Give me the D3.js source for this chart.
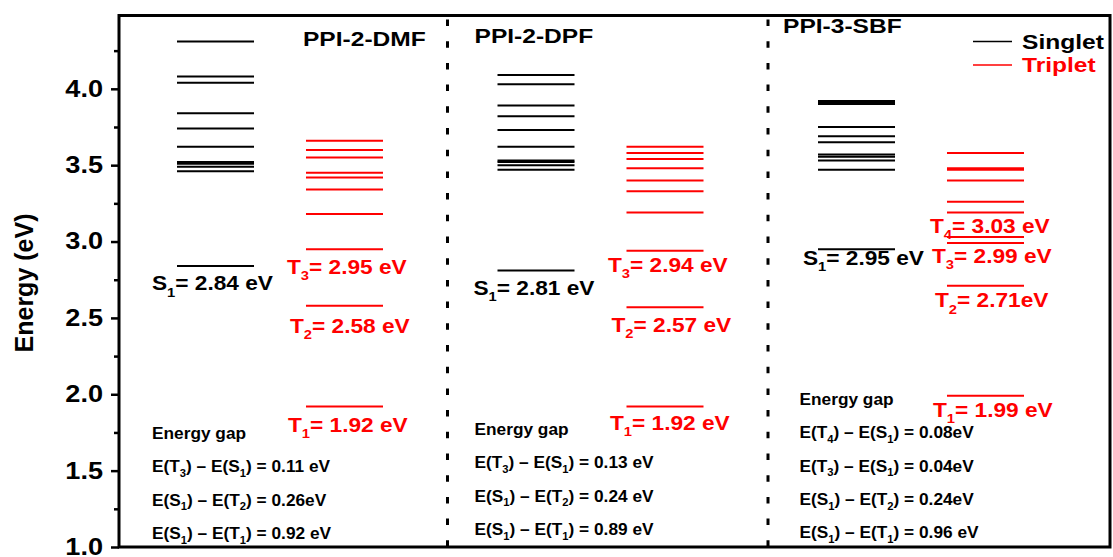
<!DOCTYPE html>
<html>
<head>
<meta charset="utf-8">
<script src="https://cdn.jsdelivr.net/npm/d3@7"></script>
<style>
  body { margin: 0; background: #fff; }
  text { font-family: "Liberation Sans", Arial, sans-serif; font-weight: bold; }
</style>
</head>
<body>
<script>
// Molecules and their computed excited state energies (eV)
var molecules = ["PPI-2-DMF", "PPI-2-DPF", "PPI-3-SBF"];

var singletDMF = [4.31, 4.08, 4.04, 3.84, 3.74, 3.62, 3.52, 3.51, 3.49, 3.46, 2.84];
var tripletDMF = [3.66, 3.60, 3.55, 3.45, 3.42, 3.34, 3.18, 2.95, 2.58, 1.92];
var singletDPF = [4.09, 4.03, 3.89, 3.82, 3.73, 3.62, 3.53, 3.52, 3.50, 3.47, 2.81];
var tripletDPF = [3.62, 3.58, 3.54, 3.48, 3.40, 3.33, 3.19, 2.94, 2.57, 1.92];
var singletSBF = [3.92, 3.91, 3.90, 3.75, 3.69, 3.65, 3.57, 3.555, 3.53, 3.47, 2.95];
var tripletSBF = [3.58, 3.48, 3.47, 3.40, 3.26, 3.19, 3.03, 2.99, 2.71, 1.99];

var singlets = [singletDMF, singletDPF, singletSBF];
var triplets = [tripletDMF, tripletDPF, tripletSBF];

// Level labels ("_x" = subscript)
var levelLabelsDMF = [["Singlet", 2.84, "S_1= 2.84 eV"], ["Triplet", 2.95, "T_3= 2.95 eV"], ["Triplet", 2.58, "T_2= 2.58 eV"], ["Triplet", 1.92, "T_1= 1.92 eV"]];
var levelLabelsDPF = [["Singlet", 2.81, "S_1= 2.81 eV"], ["Triplet", 2.94, "T_3= 2.94 eV"], ["Triplet", 2.57, "T_2= 2.57 eV"], ["Triplet", 1.92, "T_1= 1.92 eV"]];
var levelLabelsSBF = [["Singlet", 2.95, "S_1= 2.95 eV"], ["Triplet", 3.03, "T_4= 3.03 eV"], ["Triplet", 2.99, "T_3= 2.99 eV"], ["Triplet", 2.71, "T_2= 2.71eV"], ["Triplet", 1.99, "T_1= 1.99 eV"]];
var levelLabels = [levelLabelsDMF, levelLabelsDPF, levelLabelsSBF];

// Energy gap notes
var gapDMF = ["Energy gap", "E(T_3) - E(S_1) = 0.11 eV", "E(S_1) - E(T_2) = 0.26eV", "E(S_1) - E(T_1) = 0.92 eV"];
var gapDPF = ["Energy gap", "E(T_3) - E(S_1) = 0.13 eV", "E(S_1) - E(T_2) = 0.24 eV", "E(S_1) - E(T_1) = 0.89 eV"];
var gapSBF = ["Energy gap", "E(T_4) - E(S_1) = 0.08eV", "E(T_3) - E(S_1) = 0.04eV", "E(S_1) - E(T_2) = 0.24eV", "E(S_1) - E(T_1) = 0.96 eV"];
var gapNotes = [gapDMF, gapDPF, gapSBF];

var majorTicks = [1.0, 1.5, 2.0, 2.5, 3.0, 3.5, 4.0];
var minorTicks = [1.25, 1.75, 2.25, 2.75, 3.25, 3.75, 4.25];

// Layout (pixel offsets for annotations)
var labelOffsets = [
  [[15, 24.5], [150, 25], [153, 27], [151, 25.5]],
  [[16, 24.5], [150.5, 21], [154, 24.5], [152.5, 23.5]],
  [[25, 16], [152, -4], [154, 20], [157, 21.5], [155, 21]]
];
var titleLayout = [[166, 46.5], [17, 43], [5, 33.5]];
var gapLayout = [[15, 439], [17, 435], [21.5, 405]];
var gapStep = 33.3;

var colors = { Singlet: "#000000", Triplet: "#ff0000" };

var svgWidth = 1113;
var svgHeight = 557;
var plot = { left: 119, right: 1110, top: 15.5, bottom: 547 };

var svg = d3.select("body")
  .append("svg")
  .attr("width", svgWidth)
  .attr("height", svgHeight);

var yScale = d3.scaleLinear()
  .domain([1.0, 4.48])
  .range([plot.bottom, plot.top]);

var panelScale = d3.scaleBand()
  .domain(molecules)
  .range([137, 1098.5]);

var colScale = d3.scaleBand()
  .domain(["Singlet", "Triplet"])
  .range([40, 246])
  .paddingInner(0.403);

// stretch text horizontally around its x anchor (source figure is widened)
function stretch(sel, sx) {
  sel.attr("transform", function() {
    var x = +this.getAttribute("x") || 0;
    return `translate(${x},0) scale(${sx},1) translate(${-x},0)`;
  });
}

// write "_x" parts as subscripts
function richText(sel, str, fs) {
  var parts = str.split(/(_\w)/);
  var down = false;
  parts.forEach(function(p) {
    if (!p) return;
    if (p[0] === "_") {
      sel.append("tspan").attr("font-size", fs * 0.65).attr("dy", fs * 0.3).text(p[1]);
      down = true;
    } else {
      sel.append("tspan").attr("dy", down ? -fs * 0.3 : null).text(p.replace(" - ", " \u2013 "));
      down = false;
    }
  });
}

// separators between molecules
svg.selectAll(".sep")
  .data(molecules.slice(1))
  .enter()
  .append("line")
  .attr("x1", d => panelScale(d) - 10)
  .attr("x2", d => panelScale(d) - 10)
  .attr("y1", plot.top + 4)
  .attr("y2", plot.bottom)
  .attr("stroke", "#000")
  .attr("stroke-width", 3)
  .attr("stroke-dasharray", "6.5,15.2");

// energy levels
var levels = [];
molecules.forEach(function(m, i) {
  singlets[i].forEach(e => levels.push({ mol: m, kind: "Singlet", e: e }));
  triplets[i].forEach(e => levels.push({ mol: m, kind: "Triplet", e: e }));
});

svg.selectAll(".level")
  .data(levels)
  .enter()
  .append("line")
  .attr("class", "level")
  .attr("x1", d => panelScale(d.mol) + colScale(d.kind))
  .attr("x2", d => panelScale(d.mol) + colScale(d.kind) + colScale.bandwidth())
  .attr("y1", d => yScale(d.e))
  .attr("y2", d => yScale(d.e))
  .attr("stroke", d => colors[d.kind])
  .attr("stroke-width", 2);

// level labels
molecules.forEach(function(m, i) {
  levelLabels[i].forEach(function(l, j) {
    var t = svg.append("text")
      .attr("x", panelScale(m) + labelOffsets[i][j][0])
      .attr("y", yScale(l[1]) + labelOffsets[i][j][1])
      .attr("font-size", 21)
      .attr("fill", colors[l[0]]);
    richText(t, l[2], 21);
    stretch(t, 1.08);
  });

  // titles
  var title = svg.append("text")
    .attr("x", panelScale(m) + titleLayout[i][0])
    .attr("y", titleLayout[i][1])
    .attr("font-size", 21)
    .text(m);
  stretch(title, 1.17);

  // energy gap notes
  gapNotes[i].forEach(function(s, j) {
    var t = svg.append("text")
      .attr("x", panelScale(m) + gapLayout[i][0])
      .attr("y", gapLayout[i][1] + j * gapStep)
      .attr("font-size", 16);
    richText(t, s, 16);
    stretch(t, 1.08);
  });
});

// y axis
var leftAxis = d3.axisLeft(yScale)
  .tickValues(majorTicks)
  .tickSize(8)
  .tickPadding(8)
  .tickFormat(d3.format(".1f"));

var minorAxis = d3.axisLeft(yScale)
  .tickValues(minorTicks)
  .tickSize(5)
  .tickFormat("");

var axisG = svg.append("g")
  .attr("transform", `translate(${plot.left}, 0)`)
  .call(leftAxis)
  .attr("font-size", null)
  .attr("font-family", null);
axisG.select(".domain").remove();
axisG.selectAll("line").attr("stroke-width", 2.5);
axisG.selectAll("text").attr("font-size", 23).attr("fill", "#000");
stretch(axisG.selectAll("text"), 1.18);

var minorG = svg.append("g")
  .attr("transform", `translate(${plot.left}, 0)`)
  .call(minorAxis);
minorG.select(".domain").remove();
minorG.selectAll("line").attr("stroke-width", 2.5);

// frame
svg.append("rect")
  .attr("x", plot.left)
  .attr("y", plot.top)
  .attr("width", plot.right - plot.left)
  .attr("height", plot.bottom - plot.top)
  .attr("fill", "none")
  .attr("stroke", "#000")
  .attr("stroke-width", 3);

// axis title
svg.append("text")
  .attr("transform", "translate(33, 283) rotate(-90)")
  .attr("text-anchor", "middle")
  .attr("font-size", 25)
  .text("Energy (eV)");

// legend
var legend = svg.append("g");
["Singlet", "Triplet"].forEach(function(k, i) {
  legend.append("line")
    .attr("x1", 973).attr("x2", 1012)
    .attr("y1", 41.5 + i * 23.5).attr("y2", 41.5 + i * 23.5)
    .attr("stroke", colors[k])
    .attr("stroke-width", 1.5);
  var t = legend.append("text")
    .attr("x", 1022)
    .attr("y", 49.5 + i * 23)
    .attr("font-size", 21)
    .attr("fill", colors[k])
    .text(k);
  stretch(t, 1.17);
});
</script>
</body>
</html>
